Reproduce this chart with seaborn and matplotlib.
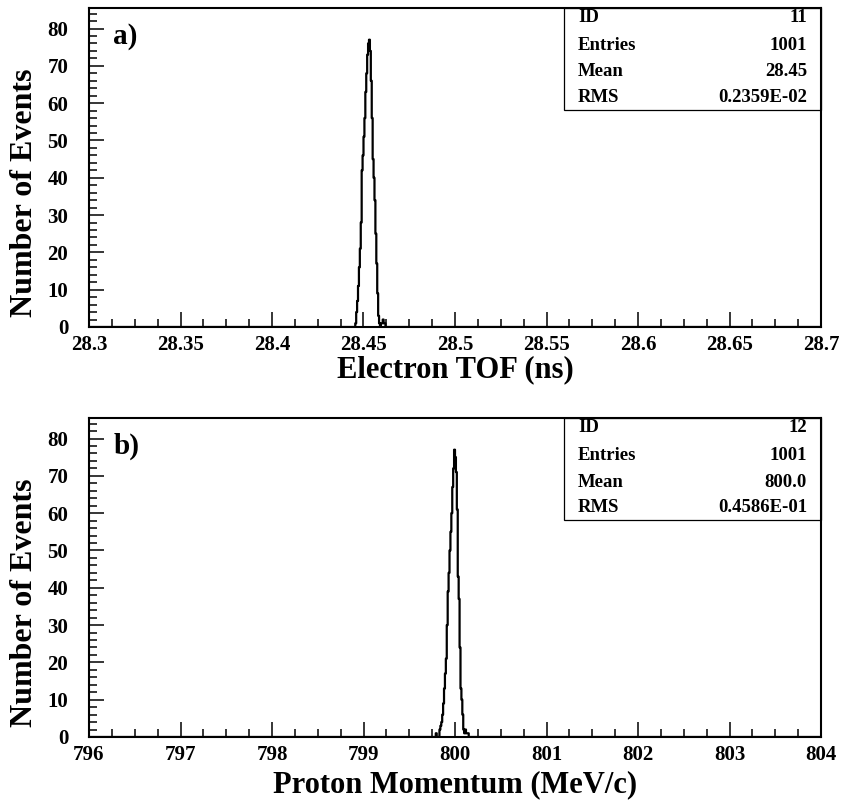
import numpy as np
import pandas as pd
import matplotlib
matplotlib.use("Agg")
import matplotlib.pyplot as plt
import seaborn as sns
from matplotlib.ticker import MultipleLocator, FuncFormatter
from matplotlib.patches import Rectangle

# histogram bin centres and counts
tof_ns = [28.44575, 28.44625, 28.44675, 28.44725, 28.44775, 28.44825, 28.44875,
          28.44925, 28.44975, 28.45025, 28.45075, 28.45125, 28.45175, 28.45225,
          28.45275, 28.45325, 28.45375, 28.45425, 28.45475, 28.45525, 28.45575,
          28.45625, 28.45675, 28.45725, 28.45775, 28.45825, 28.45875, 28.45925,
          28.45975, 28.46025, 28.46075, 28.46125, 28.46175]
tof_counts = [1, 4, 7, 11, 16, 21, 28, 42, 46, 51, 56, 63, 68, 73, 76, 77, 74,
              66, 56, 45, 40, 34, 25, 17, 9, 3, 1, 0, 1, 1, 2, 1, 1]

p_mev = [799.795, 799.835, 799.845, 799.855, 799.865, 799.875, 799.885, 799.895,
         799.905, 799.915, 799.925, 799.935, 799.945, 799.955, 799.965, 799.975,
         799.985, 799.995, 800.005, 800.015, 800.025, 800.035, 800.045, 800.055,
         800.065, 800.075, 800.085, 800.095, 800.105, 800.115, 800.125, 800.135,
         800.145]
p_counts = [1, 2, 3, 4, 6, 9, 13, 17, 21, 30, 39, 44, 50, 55, 60, 67, 72, 77,
            75, 71, 61, 43, 37, 24, 13, 10, 6, 2, 1, 2, 1, 1, 1]

tof_stats = [("ID", "11"), ("Entries", "1001"), ("Mean", "28.45"), ("RMS", "0.2359E-02")]
p_stats = [("ID", "12"), ("Entries", "1001"), ("Mean", "800.0"), ("RMS", "0.4586E-01")]

sns.set_style("white")
plt.rcParams['font.family'] = ['Liberation Serif', 'DejaVu Serif']
plt.rcParams['font.weight'] = 'bold'
for key in ['text.color', 'axes.labelcolor', 'xtick.color', 'ytick.color']:
    plt.rcParams[key] = 'black'

W, H = 846, 808
fig = plt.figure(figsize=(W / 100, H / 100), dpi=100)
left, right = 89, 821
ax1 = fig.add_axes([left / W, 1 - 327 / H, (right - left) / W, 319 / H])
ax2 = fig.add_axes([left / W, 1 - 737 / H, (right - left) / W, 319 / H])


def draw(ax, x, counts, lo, hi, width, major, minor, xlabel, label_y, tag, stats):
    df = pd.DataFrame({"x": x, "n": counts})
    sns.histplot(data=df, x="x", weights="n", binwidth=width, binrange=(lo, hi),
                 element="step", fill=False, color="black", linewidth=1.6, ax=ax)
    ax.set_xlim(lo, hi)
    ax.set_ylim(0, 85.5)
    ax.xaxis.set_major_locator(MultipleLocator(major))
    ax.xaxis.set_minor_locator(MultipleLocator(minor))
    ax.yaxis.set_major_locator(MultipleLocator(10))
    ax.yaxis.set_minor_locator(MultipleLocator(2))
    ax.xaxis.set_major_formatter(FuncFormatter(lambda v, p: "%g" % round(v, 4)))
    ax.tick_params(which="both", direction="in", width=1.1, labelsize=15,
                   bottom=True, left=True, top=False, right=False)
    ax.tick_params(which="major", length=10.5)
    ax.tick_params(which="minor", length=5.5)
    ax.tick_params(axis="y", pad=15)
    ax.tick_params(axis="x", pad=6)
    for s in ax.spines.values():
        s.set_linewidth(1.5)
        s.set_color("black")
    ax.set_ylabel("")
    ax.set_xlabel(xlabel, fontsize=22, fontweight="bold")
    ax.xaxis.set_label_coords(0.5, label_y)
    ax.text(-0.0886, 0.031, "Number of Events", transform=ax.transAxes,
            rotation=90, ha="center", va="bottom", fontsize=23, fontweight="bold")
    ax.text(0.033, 0.912, tag, transform=ax.transAxes, ha="left", va="center",
            fontsize=21, fontweight="bold")
    x0 = (564 - left) / (right - left)
    y0 = (327 - 110) / 319
    ax.add_patch(Rectangle((x0, y0), 1 - x0, 1 - y0, transform=ax.transAxes,
                           fill=False, edgecolor="black", linewidth=0.9, clip_on=False))
    rows = [17, 46, 72, 97]
    for (k, v), r in zip(stats, rows):
        yy = (327 - r) / 319
        ax.text((578 - left) / (right - left), yy, k, transform=ax.transAxes,
                ha="left", va="center", fontsize=13.5, fontweight="bold")
        ax.text((807 - left) / (right - left), yy, v, transform=ax.transAxes,
                ha="right", va="center", fontsize=13.5, fontweight="bold")


draw(ax1, tof_ns, tof_counts, 28.3, 28.7, 0.0005, 0.05, 0.0125,
     "Electron TOF (ns)", -0.09, "a)", tof_stats)
draw(ax2, p_mev, p_counts, 796, 804, 0.01, 1, 0.25,
     "Proton Momentum (MeV/c)", -0.105, "b)", p_stats)

plt.savefig("out.png", dpi=100)
